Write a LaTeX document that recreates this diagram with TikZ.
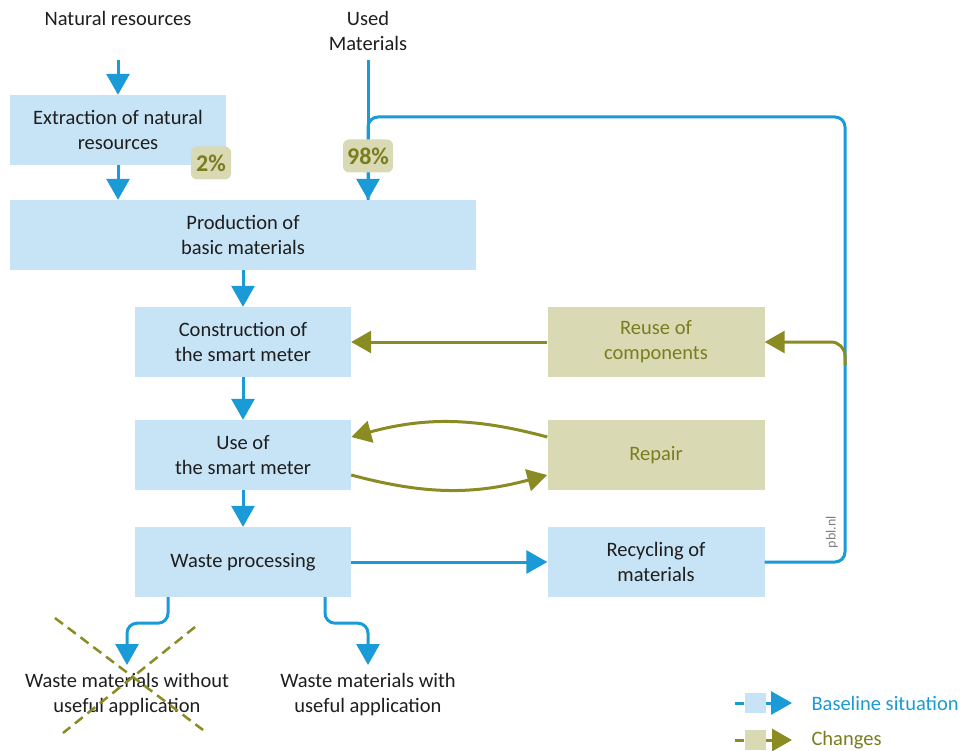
\documentclass[tikz,border=0pt]{standalone}
\usepackage{fontspec}
\setmainfont{Carlito}
\usepackage{xcolor}
\usepackage{tikz}
\usetikzlibrary{arrows.meta}

\definecolor{pblblue}{HTML}{1A9AD6}
\definecolor{boxblue}{HTML}{C7E3F6}
\definecolor{chgolive}{HTML}{8A8B22}
\definecolor{chgbox}{HTML}{D9D9B4}
\definecolor{chgtext}{HTML}{7A7D1E}
\definecolor{boxtext}{HTML}{1E1E1E}

\begin{document}
\begin{tikzpicture}[x=1pt,y=-1pt,
  font=\fontsize{20.5}{25}\selectfont,
  basebox/.style={fill=boxblue,text=boxtext,align=center,minimum width=216pt,minimum height=70pt,inner sep=0pt},
  chgnode/.style={fill=chgbox,text=chgtext,align=center,minimum width=217pt,minimum height=70pt,inner sep=0pt},
  badge/.style={fill=chgbox,text=chgtext,font=\fontsize{24}{28}\selectfont\bfseries,rounded corners=6pt,inner sep=0pt,minimum height=33pt},
  flow/.style={pblblue,line width=3pt,-{Triangle[width=23pt,length=21pt]}},
  flowline/.style={pblblue,line width=3pt},
  changeflow/.style={chgolive,line width=3pt,-{Triangle[width=22pt,length=20pt]}}]
  \useasboundingbox (0,0) rectangle (960,751);
  % inputs at the top
  \node[text=boxtext] (natres) at (118,18) {Natural resources};
  \node[text=boxtext,align=center] (used) at (368,31) {Used\\Materials};
  \coordinate (natin) at (118,60);
  \coordinate (usedin) at (368,60);
  % main chain (baseline)
  \node[basebox] (extract) at (118,130) {Extraction of natural\\resources};
  \node[basebox,minimum width=466pt] (prod) at (243,235) {Production of\\basic materials};
  \node[basebox] (constr) at (243,342) {Construction of\\the smart meter};
  \node[basebox] (use) at (243,455) {Use of\\the smart meter};
  \node[basebox] (waste) at (243,562) {Waste processing};
  \node[basebox,minimum width=217pt] (recyc) at (656,562) {Recycling of\\materials};
  % changes
  \node[chgnode] (reuse) at (656,342) {Reuse of\\components};
  \node[chgnode] (repair) at (656,455) {Repair};
  % end products
  \node[text=boxtext,align=center] (wasteno) at (127,695) {Waste materials without\\useful application};
  \node[text=boxtext,align=center] (wasteyes) at (368,695) {Waste materials with\\useful application};
  \coordinate (noin) at (127,665);
  \coordinate (yesin) at (368,665);
  % baseline flows
  \draw[flow] (natin) -- (extract.north);
  \draw[flow] (extract.south) -- (extract.south |- prod.north);
  \draw[flowline,rounded corners=10pt] (recyc.east) -| (845,117) -| (usedin |- prod.north);
  \draw[flow] (usedin) -- (usedin |- prod.north);
  \draw[flow] (prod.south -| constr) -- (constr.north);
  \draw[flow] (constr) -- (use.north);
  \draw[flow] (use) -- (waste.north);
  \draw[flow] (waste.east) -- (recyc.west);
  \draw[flow,rounded corners=10pt] ([xshift=-75pt]waste.south) -- ++(0,26) -| (noin);
  \draw[flow,rounded corners=10pt] ([xshift=82pt]waste.south) -- ++(0,26) -| (yesin);
  % changes flows
  \coordinate (branch) at (845,365);
  \draw[changeflow,rounded corners=14pt] (branch) |- (reuse.east);
  \draw[changeflow] (reuse.west) -- (constr.east);
  \draw[changeflow] ([yshift=18pt]repair.west) to[bend right=15] ([yshift=18pt]use.east);
  \draw[changeflow] ([yshift=-20pt]use.east) to[bend right=15] ([yshift=-20pt]repair.west);
  % waste without use is struck out
  \draw[chgolive,line width=2.5pt,dash pattern=on 10pt off 6pt] (55,618) -- (203,730);
  \draw[chgolive,line width=2.5pt,dash pattern=on 10pt off 6pt] (195,627) -- (63,733);
  % shares
  \node[badge,minimum width=40pt] (pctnat) at (211,163) {2\%};
  \node[badge,minimum width=50pt] (pctused) at (368,156) {98\%};
  % source
  \node[text=gray,font=\fontsize{14}{16}\selectfont,rotate=90] (src) at (832,532) {pbl.nl};
  % legend
  \node[fill=boxblue,minimum width=21pt,minimum height=20pt,inner sep=0pt] (keyblue) at (755,703) {};
  \node[fill=chgbox,minimum width=21pt,minimum height=20pt,inner sep=0pt] (keyolive) at (755,740) {};
  \coordinate (keyblueend) at (792,703);
  \coordinate (keyoliveend) at (792,740);
  \draw[flowline] (735,703) -- (keyblue.west);
  \draw[flow] (keyblue.east) -- (keyblueend);
  \draw[chgolive,line width=3pt] (735,740) -- (keyolive.west);
  \draw[changeflow] (keyolive.east) -- (keyoliveend);
  \node[anchor=west,text=pblblue] (keybluetxt) at (808,703) {Baseline situation};
  \node[anchor=west,text=chgtext] (keyolivetxt) at (808,740) {Changes};
\end{tikzpicture}
\end{document}
